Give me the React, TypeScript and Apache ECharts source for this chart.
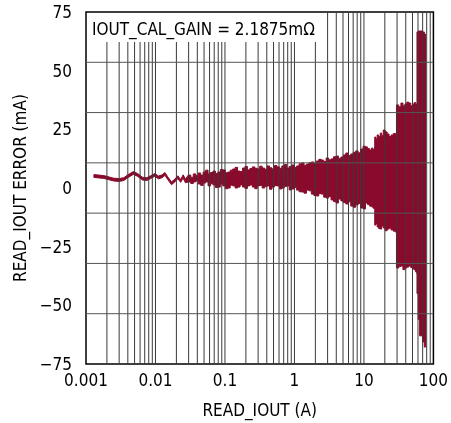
import React, { useEffect, useRef } from "react";
import * as echarts from "echarts";

// X axis (log) tick labels
const xTickLabels = ["0.001", "0.01", "0.1", "1", "10", "100"];
const yMin = -75;
const yMax = 75;
const yStep = 25;
// the plot's horizontal grid divides the frame into 7 equal bands
const yGridBands = 7;
// index from which the trace is a sampled, stepped noise band
const bandStart = 22;

// READ_IOUT (A)
const currentA = [
  0.0013, 0.0018, 0.0025, 0.003, 0.0035, 0.004, 0.0048, 0.0055, 0.0065, 0.0075,
  0.0085, 0.0098, 0.011, 0.0125, 0.0137, 0.015, 0.017, 0.019, 0.021, 0.023,
  0.025, 0.027,
  0.0297, 0.0322, 0.035, 0.038, 0.0412, 0.0447, 0.0485, 0.0526, 0.0571, 0.0619,
  0.0672, 0.0729, 0.0791, 0.0858, 0.0931, 0.101, 0.1096, 0.119, 0.129, 0.14,
  0.1518, 0.165, 0.1787, 0.194, 0.2103, 0.228, 0.2476, 0.269, 0.2914, 0.316,
  0.343, 0.372, 0.4038, 0.438, 0.4754, 0.516, 0.5596, 0.607, 0.6587, 0.715,
  0.7754, 0.841, 0.9128, 0.99, 1.075, 1.166, 1.265, 1.372, 1.489, 1.616,
  1.753, 1.902, 2.063, 2.239, 2.429, 2.635, 2.859, 3.102, 3.365, 3.651,
  3.961, 4.298, 4.663, 5.059, 5.489, 5.955, 6.461, 7.009, 7.604, 8.25,
  8.951, 9.713, 10.54, 11.25, 12.0, 12.81, 13.5, 14.2,
  14.3, 14.9, 15.5, 16.3, 17.18, 18.0, 18.95, 20.2, 21.59, 23.0,
  24.6, 26.5, 28.5, 29.2,
  29.4, 31.7, 34.09, 36.4, 38.84, 41.5, 44.25, 47.2, 50.42, 53.0,
  55.59, 57.5,
  58.0, 60.5, 63.35, 69.87, 74.0, 77.0,
];
// upper envelope of READ_IOUT error (mA)
const errUpper = [
  5.7, 5.3, 4.2, 4.0, 4.4, 5.6, 7.0, 6.2, 4.6, 4.4,
  5.2, 6.2, 5.1, 5.6, 6.6, 4.8, 2.6, 3.8, 5.2, 3.6,
  5.6, 3.8,
  5.5, 4.6, 6.0, 5.3, 6.4, 5.5, 6.8, 7.6, 6.0, 6.6,
  7.2, 6.2, 6.8, 7.9, 7.7, 6.5, 6.8, 7.6, 8.1, 8.8,
  7.2, 7.0, 8.5, 9.2, 7.7, 8.3, 9.0, 8.4, 8.1, 9.3,
  8.5, 8.0, 9.4, 8.6, 8.1, 9.6, 9.0, 8.4, 9.4, 10.0,
  8.5, 9.2, 9.8, 8.8, 9.4, 10.3, 10.7, 9.7, 10.2, 10.8,
  11.1, 10.4, 11.5, 12.2, 11.9, 11.3, 12.8, 12.0, 12.4, 13.3,
  13.6, 12.6, 13.2, 14.1, 14.9, 13.8, 14.5, 15.2, 15.8, 15.0,
  16.6, 17.8, 17.5, 16.8, 16.2, 17.0, 16.4, 17.5,
  21.7, 20.9, 22.6, 21.9, 23.4, 22.4, 24.7, 23.9, 23.0, 21.9,
  22.6, 23.2, 21.7, 21.7,
  35.4, 34.6, 36.2, 35.0, 35.8, 36.6, 36.2, 35.0, 35.8, 36.4,
  35.8, 35.4,
  66.5, 66.9, 66.9, 66.5, 65.6, 64.5,
];
// lower envelope of READ_IOUT error (mA)
const errLower = [
  4.5, 4.1, 3.0, 2.8, 3.2, 4.4, 5.8, 5.0, 3.4, 3.2,
  4.0, 5.0, 3.9, 4.4, 5.4, 3.6, 1.4, 2.6, 4.0, 2.4,
  4.2, 2.2,
  2.6, 1.9, 2.6, 3.0, 1.7, 1.1, 2.1, 2.6, 0.9, 1.8,
  1.3, 0.2, 0.4, 1.7, 0.9, -0.3, 0.0, 1.2, 0.9, 0.0,
  0.4, 1.3, 0.4, -0.2, 0.9, 1.3, 0.4, -0.3, 0.9, 1.1,
  0.0, 0.6, 0.9, -0.5, 0.4, 1.0, 0.9, -0.4, 0.0, 0.7,
  0.9, -0.8, -0.4, 0.2, -0.9, -1.6, -1.7, -2.2, -0.9, -1.2,
  -2.6, -3.2, -3.4, -2.4, -2.6, -3.9, -4.3, -3.6, -5.1, -5.8,
  -6.4, -4.7, -5.5, -6.2, -6.8, -5.9, -7.7, -8.2, -7.2, -6.6,
  -8.5, -8.9, -6.4, -7.0, -7.7, -8.0, -8.6, -7.7,
  -15.8, -15.2, -16.6, -17.3, -17.5, -16.2, -17.0, -18.2, -17.5, -17.1,
  -17.9, -18.4, -18.8, -18.8,
  -34.1, -33.5, -33.2, -34.8, -34.1, -33.7, -33.2, -33.9, -34.5, -34.9,
  -35.8, -36.5,
  -45.0, -56.0, -63.0, -65.6, -67.8, -67.8,
];

const FONT = '"Liberation Sans Narrow", "DejaVu Sans Condensed", Arial, sans-serif';
const BAND_COLOR = "#8a0a2c";

export default function App() {
  const ref = useRef<HTMLDivElement>(null);

  useEffect(() => {
    if (!ref.current) return;
    const chart = echarts.init(ref.current, undefined, { renderer: "svg" });

    const xGrid: number[] = [];
    for (let d = -3; d < 2; d++) {
      for (let m = 1; m <= 9; m++) {
        if (d === -3 && m === 1) continue;
        xGrid.push(m * Math.pow(10, d));
      }
    }
    const yGrid: number[] = [];
    for (let k = 1; k < yGridBands; k++) {
      yGrid.push(yMin + ((yMax - yMin) * k) / yGridBands);
    }

    const bandData = currentA.map((x, i) => [x, errUpper[i], errLower[i]]);

    const tracePath = (col: number, api: any) => {
      const pts: number[][] = [];
      for (let i = 0; i < bandData.length; i++) {
        const d = bandData[i];
        pts.push(api.coord([d[0], d[col]]));
        if (i >= bandStart && i < bandData.length - 1) {
          pts.push(api.coord([bandData[i + 1][0], d[col]]));
        }
      }
      return pts;
    };

    const option: any = {
      animation: false,
      grid: {
        left: 86,
        top: 12,
        right: 12,
        bottom: 59,
        show: true,
        borderColor: "#000",
        borderWidth: 1.5,
        backgroundColor: "transparent",
      },
      xAxis: {
        type: "log",
        logBase: 10,
        min: 0.001,
        max: 100,
        name: "READ_IOUT (A)",
        nameLocation: "middle",
        nameGap: 37,
        nameTextStyle: { fontFamily: FONT, fontSize: 17, color: "#000" },
        axisLine: { show: false },
        axisTick: { show: false },
        splitLine: { show: false },
        axisLabel: {
          margin: 7,
          fontFamily: FONT,
          fontSize: 17,
          color: "#000",
          formatter: (v: number) => {
            const i = Math.round(Math.log10(v)) + 3;
            return xTickLabels[i] ?? "";
          },
        },
      },
      yAxis: {
        type: "value",
        min: yMin,
        max: yMax,
        interval: yStep,
        name: "READ_IOUT ERROR (mA)",
        nameLocation: "middle",
        nameGap: 56,
        nameTextStyle: { fontFamily: FONT, fontSize: 17, color: "#000" },
        axisLine: { show: false },
        axisTick: { show: false },
        splitLine: { show: false },
        axisLabel: {
          margin: 14,
          fontFamily: FONT,
          fontSize: 17,
          color: "#000",
          formatter: (v: number) => String(v).replace("-", "\u2212"),
        },
      },
      series: [
        {
          type: "custom",
          data: bandData,
          z: 2,
          clip: true,
          renderItem: (params: any, api: any) => {
            if (params.dataIndex !== 0) return null;
            const cs = params.coordSys;
            const top = tracePath(1, api);
            const bot = tracePath(2, api).reverse();
            const children: any[] = [
              {
                type: "polygon",
                shape: { points: top.concat(bot) },
                style: { fill: BAND_COLOR, stroke: BAND_COLOR, lineWidth: 1 },
              },
            ];
            xGrid.forEach((v) => {
              const px = api.coord([v, 0])[0];
              children.push({
                type: "line",
                shape: { x1: px, y1: cs.y, x2: px, y2: cs.y + cs.height },
                style: { stroke: "#3a3a3a", lineWidth: 1 },
              });
            });
            yGrid.forEach((v) => {
              const py = api.coord([0.01, v])[1];
              children.push({
                type: "line",
                shape: { x1: cs.x, y1: py, x2: cs.x + cs.width, y2: py },
                style: { stroke: "#555", lineWidth: 1 },
              });
            });
            return { type: "group", children };
          },
        },
      ],
      graphic: [
        {
          type: "rect",
          z: 100,
          shape: { x: 87, y: 13, width: 235, height: 29 },
          style: { fill: "#fff" },
        },
        {
          type: "text",
          z: 101,
          x: 92,
          y: 29,
          style: {
            text: "IOUT_CAL_GAIN = 2.1875m\u03A9",
            fontFamily: FONT,
            fontSize: 17,
            fill: "#000",
            verticalAlign: "middle",
          },
        },
      ],
    };

    chart.setOption(option);
    return () => chart.dispose();
  }, []);

  return (
    <div
      ref={ref}
      style={{ position: "fixed", left: 0, top: 0, width: 451, height: 423 }}
    />
  );
}
